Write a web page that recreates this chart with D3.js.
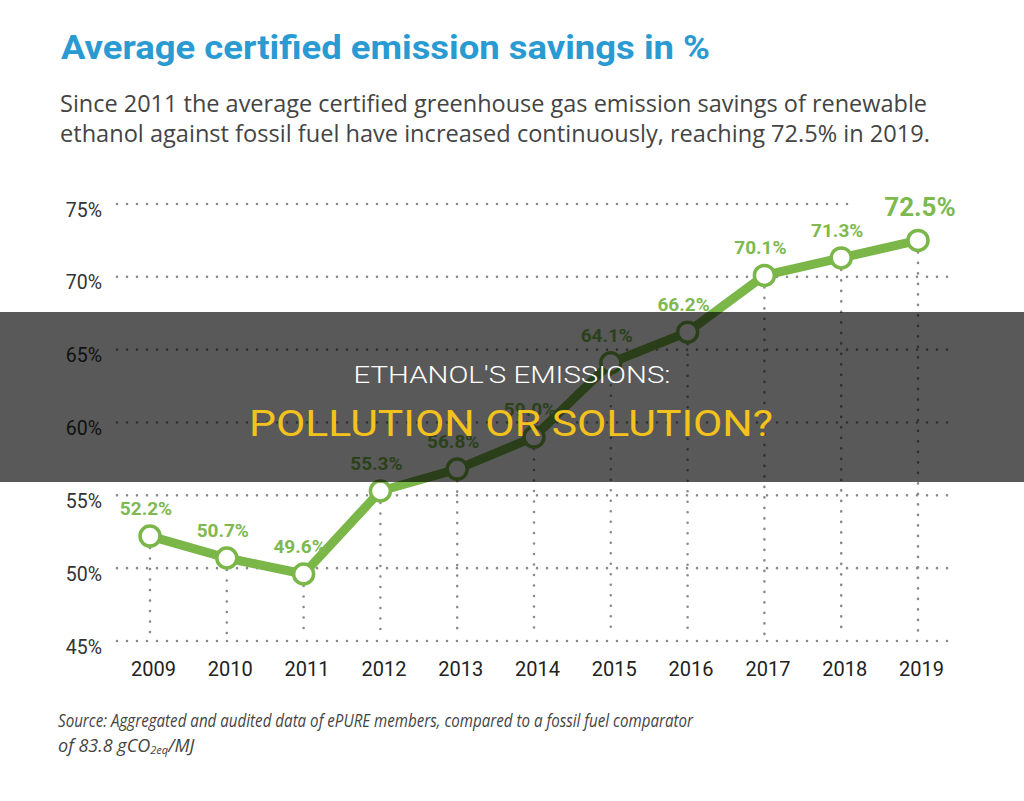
<!DOCTYPE html>
<html>
<head>
<meta charset="utf-8">
<script src="https://cdn.jsdelivr.net/npm/d3@7"></script>
<style>
  html, body { margin: 0; padding: 0; background: #fff; }
  svg { display: block; }
</style>
</head>
<body>
<svg id="chart" width="1024" height="801"></svg>
<script>
// ---- data ----
const years = [2009, 2010, 2011, 2012, 2013, 2014, 2015, 2016, 2017, 2018, 2019];
const savings = [52.2, 50.7, 49.6, 55.3, 56.8, 59.0, 64.1, 66.2, 70.1, 71.3, 72.5];
const yTicks = [45, 50, 55, 60, 65, 70, 75];
const titleText = "Average certified emission savings in %";
const subtitleLines = [
  "Since 2011 the average certified greenhouse gas emission savings of renewable",
  "ethanol against fossil fuel have increased continuously, reaching 72.5% in 2019."
];
const sourceLine1 = "Source: Aggregated and audited data of ePURE members, compared to a fossil fuel comparator";
const overlayLine1 = "ETHANOL'S EMISSIONS:";
const overlayLine2 = "POLLUTION OR SOLUTION?";

// ---- layout ----
const svg = d3.select("#chart");
const green = "#7ab648";
const labelGreen = "#7db94f";
const gridColor = "#8a8a8a";

const x = d3.scalePoint().domain(years).range([150, 918]);
const y = d3.scaleLinear().domain([45, 75]).range([641, 204]);
const gridX0 = 117, gridX1 = 953;

// title
svg.append("text")
  .attr("x", 61).attr("y", 59)
  .attr("font-family", "Roboto, sans-serif")
  .attr("font-weight", 700)
  .attr("font-size", 33)
  .attr("fill", "#2a9ad2")
  .attr("textLength", 649).attr("lengthAdjust", "spacingAndGlyphs")
  .text(titleText);

// subtitle
const subW = [867, 870];
subtitleLines.forEach((t, i) => {
  svg.append("text")
    .attr("x", 60).attr("y", 112 + i * 30)
    .attr("font-family", "'Open Sans', sans-serif")
    .attr("font-size", 23.5)
    .attr("fill", "#444")
    .attr("textLength", subW[i]).attr("lengthAdjust", "spacingAndGlyphs")
    .text(t);
});

// horizontal gridlines
const g = svg.append("g");
g.selectAll("line.h").data(yTicks).join("line")
  .attr("class", "h")
  .attr("x1", gridX0).attr("x2", gridX1)
  .attr("y1", d => y(d)).attr("y2", d => y(d))
  .attr("stroke", gridColor).attr("stroke-width", 2.6)
  .attr("stroke-linecap", "round")
  .attr("stroke-dasharray", "0 10");

// y tick labels via axis
const yAxis = d3.axisLeft(y).tickValues(yTicks).tickFormat(d => d + "%").tickSize(0).tickPadding(0);
const ya = svg.append("g").attr("transform", "translate(102,0)").call(yAxis);
ya.select(".domain").remove();
ya.selectAll("text")
  .attr("font-family", "Roboto, sans-serif")
  .attr("font-size", 19.5)
  .attr("fill", "#333")
  .attr("dy", "0.62em")
  .attr("text-anchor", "end");

// vertical gridlines from point down
g.selectAll("line.v").data(years).join("line")
  .attr("class", "v")
  .attr("x1", d => x(d)).attr("x2", d => x(d))
  .attr("y1", (d, i) => y(savings[i]) + 12)
  .attr("y2", y(45) - 6)
  .attr("stroke", gridColor).attr("stroke-width", 2.6)
  .attr("stroke-linecap", "round")
  .attr("stroke-dasharray", "0 10.5");

// x axis labels
const xAxis = d3.axisBottom(x).tickSize(0).tickPadding(0);
const xa = svg.append("g").attr("transform", "translate(3,676)").call(xAxis);
xa.select(".domain").remove();
xa.selectAll("text")
  .attr("font-family", "Roboto, sans-serif")
  .attr("font-size", 20)
  .attr("fill", "#222")
  .attr("dy", 0);

// line
const line = d3.line().x((d, i) => x(years[i])).y(d => y(d));
svg.append("path")
  .datum(savings)
  .attr("d", line)
  .attr("fill", "none")
  .attr("stroke", green)
  .attr("stroke-width", 9)
  .attr("stroke-linejoin", "round");

// points
svg.selectAll("circle.pt").data(savings).join("circle")
  .attr("class", "pt")
  .attr("cx", (d, i) => x(years[i]))
  .attr("cy", d => y(d))
  .attr("r", 10)
  .attr("fill", "#fff")
  .attr("stroke", green)
  .attr("stroke-width", 3.5);

// labels
const last = savings.length - 1;
const lbl = svg.append("g");
savings.forEach((v, i) => {
  const isLast = i === last;
  const t = lbl.append("text")
    .attr("x", x(years[i]) + (isLast ? 2 : -4))
    .attr("y", y(v) - (isLast ? 24 : 21))
    .attr("text-anchor", "middle")
    .attr("font-family", "Roboto, sans-serif")
    .attr("font-weight", 700)
    .attr("font-size", isLast ? 26 : 19)
    .attr("fill", labelGreen)
    .text(v.toFixed(1) + "%");
  if (isLast) {
    const b = t.node().getBBox();
    lbl.insert("rect", "text")
      .attr("x", b.x - 29).attr("y", b.y)
      .attr("width", b.width + 40).attr("height", b.height)
      .attr("fill", "#fff");
  }
});

// source
const src = svg.append("g")
  .attr("font-family", "'Open Sans', sans-serif")
  .attr("font-style", "italic")
  .attr("font-size", 18)
  .attr("fill", "#444");
src.append("text").attr("x", 58).attr("y", 727)
  .attr("textLength", 635).attr("lengthAdjust", "spacingAndGlyphs")
  .text(sourceLine1);
const l2 = src.append("text").attr("x", 58).attr("y", 752);
l2.append("tspan").text("of 83.8 gCO");
l2.append("tspan").attr("font-size", 11).attr("dy", 2).text("2eq");
l2.append("tspan").attr("dy", -2).text("/MJ");

// overlay band
svg.append("rect")
  .attr("x", 0).attr("y", 312).attr("width", 1024).attr("height", 170)
  .attr("fill", "rgba(0,0,0,0.65)");
svg.append("text")
  .attr("x", 512).attr("y", 383)
  .attr("text-anchor", "middle")
  .attr("font-family", "Roboto, 'Liberation Sans', Arial, sans-serif")
  .attr("font-weight", 300)
  .attr("font-size", 24)
  .attr("fill", "#fff")
  .attr("textLength", 317).attr("lengthAdjust", "spacingAndGlyphs")
  .text(overlayLine1);
svg.append("text")
  .attr("x", 511).attr("y", 436)
  .attr("text-anchor", "middle")
  .attr("font-family", "Roboto, 'Liberation Sans', Arial, sans-serif")
  .attr("font-size", 36)
  .attr("fill", "#f4c21c")
  .attr("textLength", 524).attr("lengthAdjust", "spacingAndGlyphs")
  .text(overlayLine2);
</script>
</body>
</html>
